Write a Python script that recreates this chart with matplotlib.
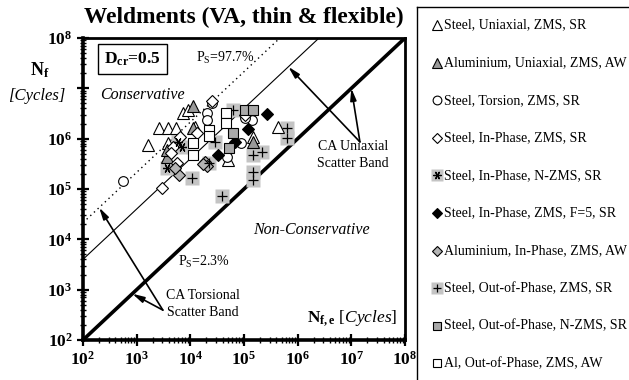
import numpy as np
import matplotlib.pyplot as plt
from matplotlib.ticker import LogLocator, FuncFormatter, NullFormatter

plt.rcParams['font.family'] = ['Liberation Serif', 'DejaVu Serif']
plt.rcParams['mathtext.fontset'] = 'custom'
plt.rcParams['mathtext.rm'] = 'Liberation Serif'
plt.rcParams['mathtext.it'] = 'Liberation Serif:italic'
plt.rcParams['mathtext.bf'] = 'Liberation Serif:bold'

# estimated lives N_f,e vs experimental lives N_f for each test series
steel_uni_ne = [1.6e3, 2.6e3, 3.9e3, 5.4e3, 7.3e3, 9.1e3, 3.9e3, 4.3e5, 1.49e5, 5.1e4, 1.23e4]
steel_uni_nf = [7.5e5, 1.64e6, 1.64e6, 1.64e6, 3.26e6, 3.7e6, 8.3e5, 1.72e6, 1.09e6, 3.8e5, 1.72e6]

al_uni_ne = [1.13e4, 3.7e3, 1.49e5, 1.13e4, 3.7e3]
al_uni_nf = [4.5e6, 4.3e5, 8.6e5, 1.64e6, 6.0e5]

steel_tor_ne = [5.6e2, 2.55e4, 2.06e4, 2.06e4, 1.42e5, 8.9e4, 4.9e4, 1.05e5]
steel_tor_nf = [1.45e5, 5.2e6, 3.26e6, 2.4e6, 2.4e6, 8.3e5, 4.3e5, 2.6e6]

steel_ip_ne = [6.5e3, 4.8e3, 4.4e3, 3.0e3, 1.34e4, 5.7e3, 2.55e4, 1.05e5]
steel_ip_nf = [1.09e6, 6.9e5, 5.2e5, 1.05e5, 1.3e6, 3.3e5, 5.6e6, 3.0e6]

steel_ip_nzms_ne = [3.7e3, 7.0e3, 5.9e3]
steel_ip_nzms_nf = [2.6e5, 6.9e5, 8.6e5]

steel_ip_f5_ne = [2.7e5, 1.2e5, 6.9e4, 3.3e4]
steel_ip_f5_nf = [3.1e6, 1.57e6, 8.6e5, 4.8e5]

al_ip_ne = [6.2e3, 1.9e4, 2.06e4, 1.73e4, 5.2e3]
al_ip_nf = [1.9e5, 3.5e5, 2.9e5, 3.2e5, 2.6e5]

steel_oop_ne = [1.08e4, 3.9e4, 2.24e4, 2.9e4, 6.3e4, 1.49e5, 2.19e5, 1.49e5, 1.49e5, 6.4e5, 6.4e5]
steel_oop_nf = [1.66e5, 7.3e4, 3.3e5, 8.6e5, 3.7e6, 4.8e5, 5.5e5, 2.19e5, 1.52e5, 1.64e6, 1.04e6]

steel_oop_nzms_ne = [1.05e5, 1.49e5, 6.3e4, 5.3e4]
steel_oop_nzms_nf = [3.7e6, 3.7e6, 1.3e6, 6.6e5]

al_oop_ne = [4.7e4, 4.7e4, 2.24e4, 2.24e4, 1.13e4, 1.13e4]
al_oop_nf = [3.26e6, 2.06e6, 1.5e6, 1.14e6, 8.3e5, 4.8e5]

labels = [
    'Steel, Uniaxial, ZMS, SR',
    'Aluminium, Uniaxial, ZMS, AW',
    'Steel, Torsion, ZMS, SR',
    'Steel, In-Phase, ZMS, SR',
    'Steel, In-Phase, N-ZMS, SR',
    'Steel, In-Phase, ZMS, F=5, SR',
    'Aluminium, In-Phase, ZMS, AW',
    'Steel, Out-of-Phase, ZMS, SR',
    'Steel, Out-of-Phase, N-ZMS, SR',
    'Al, Out-of-Phase, ZMS, AW',
]
series = [
    (steel_uni_ne, steel_uni_nf), (al_uni_ne, al_uni_nf),
    (steel_tor_ne, steel_tor_nf), (steel_ip_ne, steel_ip_nf),
    (steel_ip_nzms_ne, steel_ip_nzms_nf), (steel_ip_f5_ne, steel_ip_f5_nf),
    (al_ip_ne, al_ip_nf), (steel_oop_ne, steel_oop_nf),
    (steel_oop_nzms_ne, steel_oop_nzms_nf), (al_oop_ne, al_oop_nf),
]

# scatter band factors (N_f / N_f,e) of the constant amplitude bands
uniaxial_band = 40.0
torsional_band = 214.0

GRAY_BG = '#c4c4c4'
# marker styles: (gray square behind?, marker, size, facecolor)
styles = [
    (False, '^', 8, 'white'),
    (False, '^', 8, '#999999'),
    (False, 'o', 7, 'white'),
    (False, 'D', 6, 'white'),
    (True, (6, 2, 90), 6.5, 'black'),
    (False, 'D', 6, 'black'),
    (False, 'D', 6, '#b4b4b4'),
    (True, '+', 7, 'black'),
    (False, 's', 7, '#a8a8a8'),
    (False, 's', 7, 'white'),
]


def draw_marker(ax, x, y, style, scale=1.0):
    bg, mk, ms, fc = style
    if bg:
        ax.plot(x, y, marker='s', ms=9.5 * scale, mfc=GRAY_BG, mec='none',
                ls='none', zorder=3)
        ax.plot(x, y, marker=mk, ms=ms * scale, mec='black', mfc='black',
                mew=0.9, ls='none', zorder=4)
    else:
        ax.plot(x, y, marker=mk, ms=ms * scale, mfc=fc, mec='black', mew=0.8,
                ls='none', zorder=4)


fig = plt.figure(figsize=(6.29, 3.80), dpi=100)
ax = fig.add_axes([83 / 629, 40 / 380, 322 / 629, 302 / 380])
ax.set_xscale('log')
ax.set_yscale('log')
ax.set_xlim(1e2, 1e8)
ax.set_ylim(1e2, 1e8)

xl = np.array([1e2, 1e8])
ax.plot(xl, xl, color='black', lw=2.6, zorder=2)
ax.plot(xl, xl * uniaxial_band, color='black', lw=0.8, zorder=2)
ax.plot(xl, xl * torsional_band, color='black', lw=1.0, ls=(0, (1, 2.6)), zorder=2)

for (ne, nf), st in zip(series, styles):
    draw_marker(ax, ne, nf, st)

# axes cosmetics
for side in ['left', 'bottom']:
    ax.spines[side].set_linewidth(2.6)
for side in ['top', 'right']:
    ax.spines[side].set_linewidth(2.0)
ax.xaxis.set_major_locator(LogLocator(base=10, numticks=10))
ax.yaxis.set_major_locator(LogLocator(base=10, numticks=10))
ax.xaxis.set_minor_locator(LogLocator(base=10, subs=np.arange(2, 10), numticks=100))
ax.yaxis.set_minor_locator(LogLocator(base=10, subs=np.arange(2, 10), numticks=100))
xfmt = FuncFormatter(lambda v, p: r'$\mathbf{10^{%d}}$' % round(np.log10(v)))
# the 10^7 label on the y axis gives way to the axis title
yfmt = FuncFormatter(lambda v, p: '' if round(np.log10(v)) == 7
                     else r'$\mathbf{10^{%d}}$' % round(np.log10(v)))
ax.xaxis.set_major_formatter(xfmt)
ax.yaxis.set_major_formatter(yfmt)
ax.xaxis.set_minor_formatter(NullFormatter())
ax.yaxis.set_minor_formatter(NullFormatter())
ax.tick_params(which='major', direction='inout', length=9, width=1.6,
               labelsize=12.5, top=False, right=False, pad=3)
ax.tick_params(which='minor', direction='inout', length=5, width=1.0,
               top=False, right=False)

# annotations
ax.text(0.053, 0.81, 'Conservative', transform=ax.transAxes, style='italic',
        fontsize=11.5, va='center')
ax.text(0.528, 0.365, 'Non-Conservative', transform=ax.transAxes, style='italic',
        fontsize=11.5, va='center')
ax.text(0.352, 0.935, r'P$_\mathregular{S}$=97.7%', transform=ax.transAxes,
        fontsize=10, va='center')
ax.text(0.295, 0.258, r'P$_\mathregular{S}$=2.3%', transform=ax.transAxes,
        fontsize=10, va='center')
ax.text(0.153, 0.93, r'$\mathbf{D_{cr}}$=0.5', transform=ax.transAxes,
        fontsize=12.5, fontweight='bold', ha='center', va='center',
        bbox=dict(boxstyle='square,pad=0.35', fc='white', ec='black', lw=1.0))
ax.text(0.696, 0.073, r'$\mathbf{N_{f,e}}$ $\mathit{[Cycles]}$', transform=ax.transAxes,
        fontsize=12.5, va='center', ha='left')

ax.text(0.373, 0.12, 'CA Torsional\nScatter Band', transform=ax.transAxes,
        fontsize=10, ha='center', va='center', linespacing=1.35)
ax.text(0.838, 0.612, 'CA Uniaxial\nScatter Band', transform=ax.transAxes,
        fontsize=10, ha='center', va='center', linespacing=1.35)

arrow = dict(arrowstyle='-|>,head_length=0.7,head_width=0.18', color='black',
             lw=1.2, shrinkA=0, shrinkB=0)
tor_start = (0.248, 0.099)
ax.annotate('', xy=(200, 200 * torsional_band), xycoords='data',
            xytext=tor_start, textcoords='axes fraction', arrowprops=arrow)
ax.annotate('', xy=(830, 830), xycoords='data',
            xytext=tor_start, textcoords='axes fraction', arrowprops=arrow)
uni_start = (0.860, 0.656)
ax.annotate('', xy=(6.7e5, 6.7e5 * uniaxial_band), xycoords='data',
            xytext=uni_start, textcoords='axes fraction', arrowprops=arrow)
ax.annotate('', xy=(1e7, 1e7), xycoords='data',
            xytext=uni_start, textcoords='axes fraction', arrowprops=arrow)

# title and y label outside the axes
fig.text(0.388, 0.954, 'Weldments (VA, thin & flexible)', fontsize=16.8,
         fontweight='bold', ha='center', va='center')
fig.text(40 / 629, 1 - 70 / 380, r'$\mathbf{N_f}$', fontsize=13, ha='center', va='center')
fig.text(37 / 629, 1 - 96 / 380, '[Cycles]', fontsize=12, style='italic',
         ha='center', va='center')

# legend panel drawn in pixel units
lax = fig.add_axes([417 / 629, 0.0, 1 - 417 / 629, 1 - 7 / 380])
lax.set_xlim(417, 629)
lax.set_ylim(380, 7)
lax.set_xticks([])
lax.set_yticks([])
for side in ['right', 'bottom']:
    lax.spines[side].set_visible(False)
for side in ['left', 'top']:
    lax.spines[side].set_linewidth(1.0)
for i, (lab, st) in enumerate(zip(labels, styles)):
    yy = 25 + i * 37.6
    draw_marker(lax, [437], [yy], st, scale=0.9)
    lax.text(444, yy, lab, fontsize=10, va='center', ha='left')

fig.savefig('out.png', dpi=100)
